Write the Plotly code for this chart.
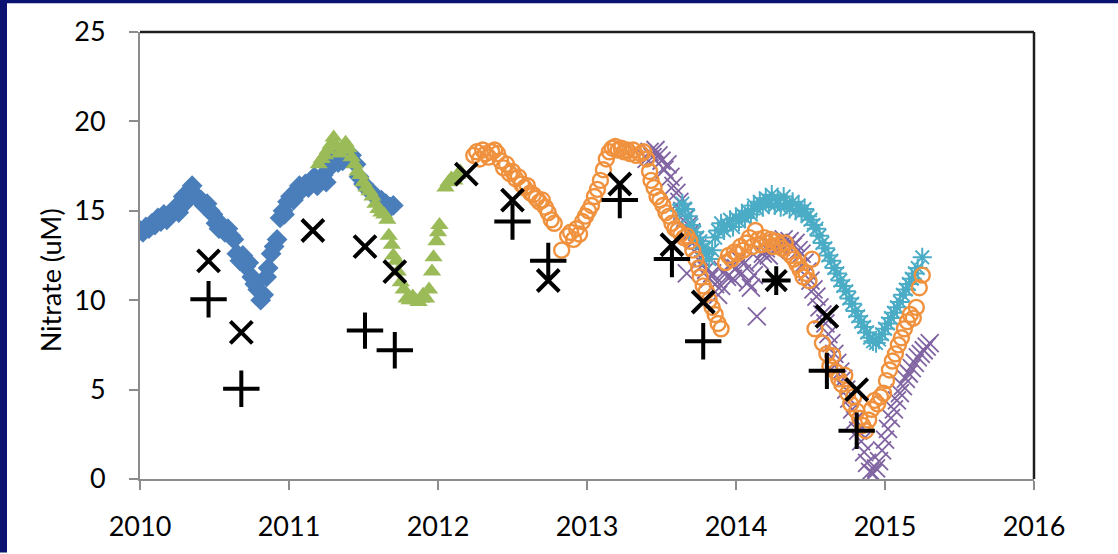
import plotly.graph_objects as go

# ---- Nitrate time series (decimal years, uM) ----
blue_x = [2010.00, 2010.02, 2010.04, 2010.06, 2010.08, 2010.10, 2010.12, 2010.14, 2010.16, 2010.18,
          2010.20, 2010.22, 2010.24, 2010.26, 2010.28, 2010.29, 2010.31, 2010.33, 2010.35, 2010.37,
          2010.39, 2010.41, 2010.43, 2010.45, 2010.47, 2010.49, 2010.51, 2010.53, 2010.55, 2010.57,
          2010.59, 2010.61, 2010.63, 2010.65, 2010.67, 2010.69, 2010.71, 2010.73, 2010.75, 2010.77,
          2010.79, 2010.81, 2010.83, 2010.85, 2010.86, 2010.88, 2010.90, 2010.92, 2010.94, 2010.96,
          2010.97, 2010.99, 2011.01, 2011.03, 2011.05, 2011.07, 2011.09, 2011.11, 2011.13, 2011.15,
          2011.17, 2011.19, 2011.21, 2011.23, 2011.25, 2011.27, 2011.29, 2011.31, 2011.33, 2011.36,
          2011.39, 2011.42, 2011.45, 2011.47, 2011.50, 2011.53, 2011.56, 2011.59, 2011.62, 2011.65,
          2011.68, 2011.70]
blue_y = [13.9, 13.8, 14.1, 14.0, 14.3, 14.2, 14.6, 14.4, 14.8, 14.5,
          14.7, 15.0, 15.2, 14.9, 15.4, 15.8, 15.5, 16.1, 16.4, 15.9,
          15.7, 15.6, 15.3, 15.4, 15.0, 14.8, 14.3, 14.0, 14.2, 13.8,
          14.0, 13.6, 13.4, 12.6, 12.2, 12.5, 11.9, 12.1, 11.3, 10.9,
          10.6, 10.0, 10.3, 11.3, 11.8, 12.6, 13.0, 13.4, 14.6, 15.0,
          14.8, 15.5, 15.8, 15.6, 16.1, 16.4, 16.2, 16.5, 16.3, 16.6,
          16.9, 16.4, 16.8, 17.0, 16.6, 17.4, 17.6, 17.9, 17.7, 17.8,
          18.0, 18.1, 17.6, 16.9, 16.5, 16.2, 16.0, 15.7, 15.6, 15.4,
          15.2, 15.3]

green_x = [2011.20, 2011.22, 2011.24, 2011.26, 2011.28, 2011.30, 2011.32, 2011.34, 2011.36, 2011.38,
           2011.40, 2011.42, 2011.44, 2011.46, 2011.48, 2011.50, 2011.52, 2011.54, 2011.56, 2011.58,
           2011.60, 2011.62, 2011.64, 2011.66, 2011.67, 2011.69, 2011.70, 2011.72, 2011.73, 2011.75,
           2011.77, 2011.79, 2011.81, 2011.83, 2011.85, 2011.87, 2011.89, 2011.90, 2011.92, 2011.94,
           2011.96, 2011.97, 2011.99, 2012.00, 2012.01, 2012.05, 2012.07, 2012.09, 2012.11, 2012.13,
           2012.15]
green_y = [17.6, 17.9, 18.1, 18.4, 18.7, 19.1, 18.6, 18.2, 18.4, 18.8,
           18.5, 18.0, 17.6, 17.2, 17.0, 16.6, 16.3, 16.1, 15.8, 15.4,
           15.1, 14.9, 14.8, 14.5, 13.6, 13.1, 12.5, 12.2, 11.6, 11.0,
           10.6, 10.1, 10.0, 10.2, 10.0, 9.9, 10.1, 10.3, 10.1, 10.6,
           11.6, 12.4, 13.3, 13.8, 14.2, 16.3, 16.6, 16.8, 16.7, 17.0,
           17.2]

orange_x = [2012.24, 2012.26, 2012.28, 2012.30, 2012.32, 2012.34, 2012.36, 2012.38, 2012.40, 2012.42,
            2012.44, 2012.46, 2012.48, 2012.50, 2012.52, 2012.54, 2012.56, 2012.58, 2012.60, 2012.62,
            2012.64, 2012.66, 2012.68, 2012.70, 2012.72, 2012.74, 2012.76, 2012.78, 2012.83, 2012.87,
            2012.89, 2012.91, 2012.93, 2012.95, 2012.97, 2012.99, 2013.01, 2013.03, 2013.05, 2013.07,
            2013.09, 2013.11, 2013.13, 2013.15, 2013.17, 2013.19, 2013.21, 2013.23, 2013.25, 2013.27,
            2013.29, 2013.31, 2013.33, 2013.36, 2013.38, 2013.40, 2013.42, 2013.43, 2013.45, 2013.47,
            2013.49, 2013.51, 2013.53, 2013.55, 2013.57, 2013.59, 2013.61, 2013.63, 2013.65, 2013.67,
            2013.69, 2013.71, 2013.73, 2013.75, 2013.76, 2013.78, 2013.80, 2013.82, 2013.84, 2013.86,
            2013.88, 2013.90, 2013.93, 2013.95, 2013.97, 2013.99, 2014.01, 2014.03, 2014.05, 2014.07,
            2014.09, 2014.11, 2014.13, 2014.15, 2014.17, 2014.19, 2014.21, 2014.23, 2014.25, 2014.27,
            2014.29, 2014.31, 2014.33, 2014.35, 2014.37, 2014.39, 2014.41, 2014.43, 2014.45, 2014.47,
            2014.49, 2014.51, 2014.53, 2014.58, 2014.61, 2014.63, 2014.65, 2014.67, 2014.69, 2014.71,
            2014.73, 2014.75, 2014.77, 2014.79, 2014.81, 2014.83, 2014.85, 2014.87, 2014.89, 2014.91,
            2014.93, 2014.95, 2014.97, 2014.99, 2015.01, 2015.03, 2015.05, 2015.07, 2015.09, 2015.11,
            2015.13, 2015.15, 2015.17, 2015.19, 2015.21, 2015.23, 2015.25]
orange_y = [18.1, 18.3, 17.9, 18.4, 18.2, 18.0, 18.3, 18.4, 18.2, 17.8,
            17.4, 17.6, 17.1, 17.2, 16.8, 16.9, 16.5, 16.3, 16.4, 16.0,
            15.9, 15.7, 15.5, 15.6, 15.2, 14.9, 14.5, 14.3, 12.8, 13.6,
            13.8, 13.4, 14.0, 13.7, 14.4, 14.7, 15.0, 15.3, 15.8, 16.2,
            16.7, 17.3, 17.9, 18.3, 18.5, 18.6, 18.4, 18.5, 18.3, 18.4,
            18.2, 18.4, 18.1, 18.2, 18.3, 17.9, 17.2, 16.7, 16.3, 15.8,
            15.6, 15.3, 14.9, 14.7, 14.3, 14.0, 13.9, 13.7, 13.5, 13.6,
            13.3, 12.8, 12.3, 11.8, 11.3, 10.8, 10.5, 10.0, 9.6, 9.2,
            8.7, 8.4, 12.1, 12.5, 12.3, 12.7, 12.6, 13.0, 12.8, 13.2,
            13.5, 13.0, 13.9, 13.4, 13.1, 13.5, 13.2, 13.4, 13.0, 13.3,
            13.1, 12.9, 13.2, 12.7, 12.5, 12.3, 12.0, 11.7, 11.3, 11.5,
            11.1, 12.3, 8.4, 7.6, 7.0, 6.3, 6.9, 6.0, 5.6, 5.3,
            5.8, 4.8, 4.2, 4.6, 3.8, 3.4, 3.0, 2.7, 3.3, 3.9,
            4.4, 4.2, 4.6, 4.8, 5.5, 6.1, 6.6, 7.0, 7.5, 7.9,
            8.4, 8.8, 9.2, 9.0, 9.6, 10.7, 11.4]

purple_x = [2013.40, 2013.42, 2013.44, 2013.46, 2013.48, 2013.50, 2013.52, 2013.54, 2013.56, 2013.58,
            2013.60, 2013.62, 2013.64, 2013.66, 2013.67, 2013.68, 2013.70, 2013.72, 2013.74, 2013.76,
            2013.78, 2013.80, 2013.82, 2013.84, 2013.86, 2013.88, 2013.90, 2013.92, 2013.94, 2013.96,
            2013.98, 2014.00, 2014.02, 2014.04, 2014.06, 2014.08, 2014.10, 2014.12, 2014.14, 2014.16,
            2014.18, 2014.20, 2014.22, 2014.24, 2014.26, 2014.28, 2014.30, 2014.32, 2014.34, 2014.36,
            2014.38, 2014.40, 2014.42, 2014.44, 2014.46, 2014.48, 2014.50, 2014.52, 2014.54, 2014.56,
            2014.58, 2014.60, 2014.62, 2014.64, 2014.66, 2014.68, 2014.70, 2014.72, 2014.74, 2014.76,
            2014.78, 2014.80, 2014.82, 2014.84, 2014.86, 2014.88, 2014.90, 2014.92, 2014.94, 2014.96,
            2014.98, 2015.00, 2015.02, 2015.04, 2015.06, 2015.08, 2015.10, 2015.12, 2015.14, 2015.16,
            2015.18, 2015.20, 2015.22, 2015.24, 2015.26, 2015.28, 2015.30]
purple_y = [17.9, 18.3, 18.0, 18.4, 18.1, 17.8, 17.3, 17.6, 16.9, 16.4,
            16.0, 15.5, 15.0, 14.6, 11.5, 14.2, 13.8, 13.3, 12.9, 12.4,
            12.0, 11.7, 11.2, 11.5, 10.9, 10.3, 10.8, 11.6, 11.3, 12.0,
            11.2, 11.8, 12.3, 11.5, 12.1, 11.0, 10.7, 11.4, 9.1, 12.2,
            12.6, 12.9, 12.5, 13.0, 12.8, 13.2, 13.0, 13.4, 13.1, 13.3,
            13.0, 13.2, 12.8, 12.6, 12.1, 11.6, 11.1, 10.6, 10.2, 9.6,
            9.2, 8.7, 8.1, 7.6, 7.0, 6.5, 6.0, 5.6, 5.0, 4.5,
            3.9, 3.3, 2.7, 2.1, 1.5, 0.9, 0.4, 0.3, 0.6, 1.0,
            1.6, 2.2, 2.8, 3.4, 3.9, 4.4, 4.8, 5.2, 5.6, 5.9,
            6.2, 6.5, 6.8, 7.0, 7.2, 7.4, 7.6]

teal_x = [2013.62, 2013.64, 2013.66, 2013.68, 2013.70, 2013.72, 2013.74, 2013.76, 2013.78, 2013.80,
          2013.82, 2013.84, 2013.86, 2013.88, 2013.90, 2013.92, 2013.94, 2013.96, 2013.98, 2014.00,
          2014.02, 2014.04, 2014.06, 2014.08, 2014.10, 2014.12, 2014.14, 2014.16, 2014.18, 2014.20,
          2014.22, 2014.24, 2014.26, 2014.28, 2014.30, 2014.32, 2014.34, 2014.36, 2014.38, 2014.40,
          2014.42, 2014.44, 2014.46, 2014.48, 2014.50, 2014.52, 2014.54, 2014.56, 2014.58, 2014.60,
          2014.62, 2014.64, 2014.66, 2014.68, 2014.70, 2014.72, 2014.74, 2014.76, 2014.78, 2014.80,
          2014.82, 2014.84, 2014.86, 2014.88, 2014.90, 2014.92, 2014.94, 2014.96, 2014.98, 2015.00,
          2015.02, 2015.04, 2015.06, 2015.08, 2015.10, 2015.12, 2015.14, 2015.16, 2015.18, 2015.20,
          2015.22, 2015.25]
teal_y = [15.0, 15.4, 15.1, 14.7, 14.2, 13.8, 13.5, 13.3, 12.9, 12.6,
          12.3, 12.8, 13.5, 13.9, 14.3, 13.9, 14.2, 14.5, 14.1, 14.6,
          14.4, 14.8, 14.6, 15.0, 14.8, 15.3, 15.1, 15.5, 15.2, 15.7,
          15.4, 15.9, 15.3, 15.6, 15.2, 15.8, 15.4, 15.1, 15.5, 15.0,
          15.3, 14.9, 15.1, 14.7, 14.5, 14.2, 14.0, 13.6, 13.2, 12.9,
          12.5, 12.2, 11.8, 11.5, 11.1, 10.8, 10.5, 10.1, 9.8, 9.4,
          9.1, 8.8, 8.5, 8.2, 7.9, 7.7, 7.6, 7.8, 8.1, 8.4,
          8.7, 9.0, 9.3, 9.6, 9.9, 10.3, 10.6, 10.9, 11.2, 11.5,
          11.8, 12.4]

# ---- discrete bottle samples ----
cross_x = [2010.46, 2010.68, 2011.16, 2011.51, 2011.71, 2012.19, 2012.50, 2012.74,
           2013.22, 2013.57, 2013.78, 2014.61, 2014.81]
cross_y = [12.2, 8.2, 13.9, 13.0, 11.6, 17.05, 15.6, 11.1, 16.5, 13.1, 9.9, 9.1, 5.0]

plus_x = [2010.46, 2010.68, 2011.51, 2011.71, 2012.50, 2012.74, 2013.22, 2013.57,
          2013.78, 2014.61, 2014.81]
plus_y = [10.05, 5.05, 8.3, 7.2, 14.4, 12.2, 15.6, 12.3, 7.7, 6.05, 2.7]

star_x = [2014.27]
star_y = [11.1]

x_ticks = [2010, 2011, 2012, 2013, 2014, 2015, 2016]
y_ticks = [0, 5, 10, 15, 20, 25]

FONT = "Lato"
W, H = 1118, 554
L, R, T, B = 140, 84, 32, 72
PW, PH = W - L - R, H - T - B


def px_x(p):
    return (p - L) / PW


def px_y(p):
    return (H - B - p) / PH


fig = go.Figure()

fig.add_trace(go.Scatter(x=blue_x, y=blue_y, mode="markers",
                         marker=dict(symbol="diamond", size=16, color="#4a7ebb", line=dict(width=0))))
fig.add_trace(go.Scatter(x=green_x, y=green_y, mode="markers",
                         marker=dict(symbol="triangle-up", size=16, color="#9bbb59", line=dict(width=0))))
fig.add_trace(go.Scatter(x=purple_x, y=purple_y, mode="markers",
                         marker=dict(symbol="x-thin-open", size=18, color="#8064a2",
                                     line=dict(width=1.8, color="#8064a2"))))
fig.add_trace(go.Scatter(x=teal_x, y=teal_y, mode="markers",
                         marker=dict(symbol="asterisk-open", size=16, color="#4bacc6",
                                     line=dict(width=2, color="#4bacc6"))))
fig.add_trace(go.Scatter(x=orange_x, y=orange_y, mode="markers",
                         marker=dict(symbol="circle-open", size=15, color="#f0913e",
                                     line=dict(width=2.4, color="#f0913e"))))
fig.add_trace(go.Scatter(x=cross_x, y=cross_y, mode="markers",
                         marker=dict(symbol="x-thin-open", size=22, color="black",
                                     line=dict(width=4, color="black"))))
fig.add_trace(go.Scatter(x=plus_x, y=plus_y, mode="markers",
                         marker=dict(symbol="cross-thin-open", size=26, color="black",
                                     line=dict(width=4, color="black"))))
fig.add_trace(go.Scatter(x=star_x, y=star_y, mode="markers",
                         marker=dict(symbol="asterisk-open", size=24, color="black",
                                     line=dict(width=4, color="black"))))

axis_common = dict(
    showgrid=False, zeroline=False, showline=True, linecolor="#8c8c8c", linewidth=2,
    ticks="outside", tickcolor="#8c8c8c", tickwidth=2, ticklen=9,
    tickfont=dict(family=FONT, size=27, color="black"),
)

fig.update_xaxes(range=[2010, 2016], tickvals=x_ticks, tickformat="d",
                 ticklabelstandoff=14, **axis_common)
fig.update_yaxes(range=[0, 25], tickvals=y_ticks,
                 ticklabelstandoff=18, **axis_common)

# dark frame lines on top and right of the plot area, navy slide border
shapes = [
    dict(type="line", xref="paper", yref="paper", x0=0, x1=1, y0=1, y1=1,
         line=dict(color="#1e1e1e", width=2.5)),
    dict(type="line", xref="paper", yref="paper", x0=1, x1=1, y0=0, y1=1,
         line=dict(color="#1e1e1e", width=2.5)),
    dict(type="rect", xref="paper", yref="paper", x0=px_x(-2), x1=px_x(7),
         y0=px_y(H + 2), y1=px_y(-2), fillcolor="#0b1270", line=dict(width=0), layer="below"),
    dict(type="rect", xref="paper", yref="paper", x0=px_x(-2), x1=px_x(W + 2),
         y0=px_y(3), y1=px_y(-2), fillcolor="#0b1270", line=dict(width=0), layer="below"),
]

fig.update_layout(
    width=W, height=H,
    margin=dict(l=L, r=R, t=T, b=B),
    paper_bgcolor="white", plot_bgcolor="white",
    showlegend=False,
    shapes=shapes,
    annotations=[dict(text="Nitrate (uM)", textangle=-90, xref="paper", yref="paper",
                      x=px_x(50), y=px_y(282), xanchor="center", yanchor="middle",
                      showarrow=False, font=dict(family=FONT, size=27, color="black"))],
)

fig.write_html("out.html")
